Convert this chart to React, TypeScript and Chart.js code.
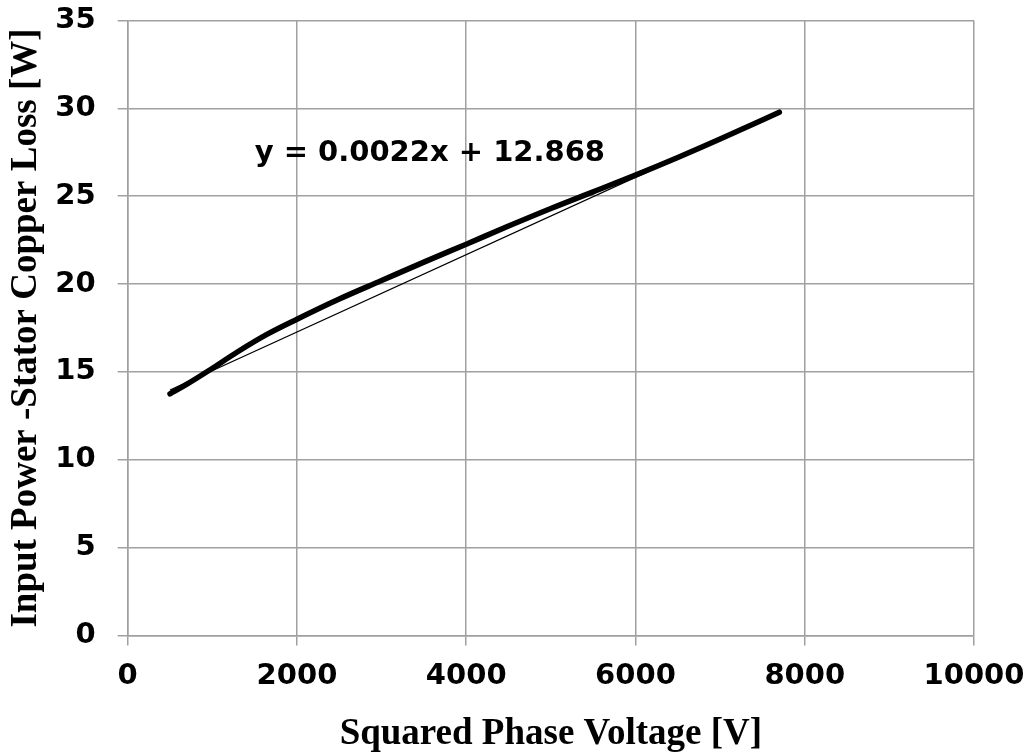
import React, { useEffect, useRef } from "react";
import { Chart, registerables } from "chart.js";

Chart.register(...registerables);

// Measured series: squared phase voltage [V] vs input power minus stator copper loss [W]
const voltageSq: number[] = [500, 700, 950, 1300, 1650, 2000, 2500, 3000, 3500, 4000, 4500, 5000, 5500, 6000, 6500, 7000, 7700];
const powerLoss: number[] = [13.75, 14.3, 15.05, 16.15, 17.15, 18.0, 19.15, 20.2, 21.25, 22.27, 23.3, 24.3, 25.25, 26.2, 27.2, 28.25, 29.78];

// Linear trendline end points (y = 0.0022x + 12.868)
const trendX: number[] = [500, 7700];
const trendY: number[] = [13.97, 29.81];

const equationLabel = "y = 0.0022x + 12.868";
const xTitle = "Squared Phase Voltage [V]";
const yTitle = "Input Power -Stator Copper Loss [W]";
const xTicks: number[] = [0, 2000, 4000, 6000, 8000, 10000];
const yTicks: number[] = [0, 5, 10, 15, 20, 25, 30, 35];

const GRID = "#a0a0a0";
const TICK_FONT = { family: "'DejaVu Sans'", weight: "bold" as const, size: 29 };
const TITLE_FONT = { family: "'Liberation Serif', 'Times New Roman', serif", weight: "bold" as const, size: 37 };

const equationPlugin = {
  id: "equationLabel",
  afterDatasetsDraw(chart: any) {
    const { ctx, scales } = chart;
    const px = scales.x.getPixelForValue(1500);
    const py = scales.y.getPixelForValue(27.45);
    ctx.save();
    ctx.font = "bold 29px 'DejaVu Sans'";
    ctx.fillStyle = "#000";
    ctx.textAlign = "left";
    ctx.textBaseline = "middle";
    ctx.fillText(equationLabel, px, py);
    ctx.restore();
  },
};

export default function App() {
  const canvasRef = useRef<HTMLCanvasElement | null>(null);

  useEffect(() => {
    if (!canvasRef.current) return;
    const chart = new Chart(canvasRef.current, {
      type: "scatter",
      data: {
        datasets: [
          {
            label: "Linear trend",
            data: trendX.map((x, i) => ({ x, y: trendY[i] })),
            showLine: true,
            borderColor: "#000",
            borderWidth: 1.3,
            pointRadius: 0,
            fill: false,
          },
          {
            label: "Measured",
            data: voltageSq.map((x, i) => ({ x, y: powerLoss[i] })),
            showLine: true,
            borderColor: "#000",
            borderWidth: 5.5,
            borderCapStyle: "round",
            borderJoinStyle: "round",
            cubicInterpolationMode: "monotone",
            pointRadius: 0,
            fill: false,
          },
        ],
      },
      options: {
        animation: false,
        responsive: false,
        maintainAspectRatio: false,
        layout: { padding: { top: 20.5, right: 56, left: 0, bottom: 0 } },
        plugins: {
          legend: { display: false },
          tooltip: { enabled: false },
        },
        scales: {
          x: {
            type: "linear",
            min: 0,
            max: 10000,
            afterFit: (s: any) => {
              s.height = 118.5;
              s.paddingLeft = 0;
              s.paddingRight = 0;
            },
            afterBuildTicks: (s: any) => { s.ticks = xTicks.map((v) => ({ value: v })); },
            ticks: { font: TICK_FONT, color: "#000", padding: 14, maxRotation: 0, callback: (v: any) => String(v) },
            grid: { color: GRID, lineWidth: 1.5, tickLength: 10, drawTicks: true },
            border: { color: GRID, width: 1.5 },
            title: { display: true, text: xTitle, font: TITLE_FONT, color: "#000", padding: { top: 0, bottom: -3 } },
          },
          y: {
            type: "linear",
            min: 0,
            max: 35,
            afterFit: (s: any) => {
              s.width = 127.7;
              s.paddingTop = 0;
              s.paddingBottom = 0;
            },
            afterBuildTicks: (s: any) => { s.ticks = yTicks.map((v) => ({ value: v })); },
            ticks: { font: TICK_FONT, color: "#000", padding: 22, callback: (v: any) => String(v) },
            grid: { color: GRID, lineWidth: 1.5, tickLength: 10, drawTicks: true },
            border: { color: GRID, width: 1.5 },
            title: { display: true, text: yTitle, font: TITLE_FONT, color: "#000", padding: { top: 4, bottom: 0 } },
          },
        },
      },
      plugins: [equationPlugin],
    } as any);
    return () => chart.destroy();
  }, []);

  return (
    <div style={{ position: "absolute", left: 0, top: 0, width: 1030, height: 754, background: "#fff" }}>
      <canvas ref={canvasRef} width={1030} height={754} style={{ display: "block" }} />
    </div>
  );
}
